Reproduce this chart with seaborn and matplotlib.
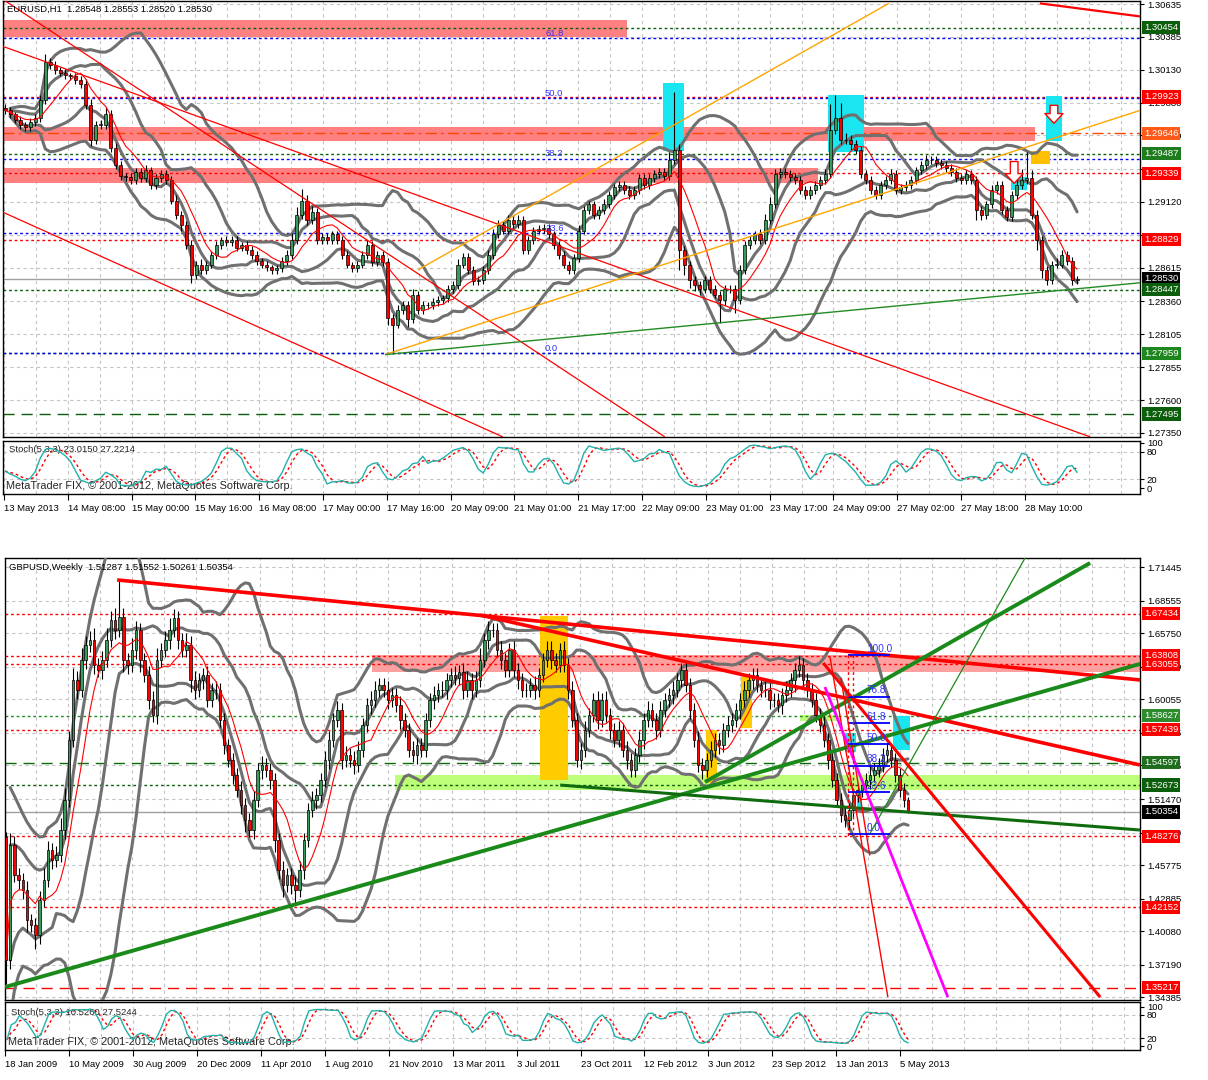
import numpy as np
import pandas as pd
import matplotlib
matplotlib.use("Agg")
import matplotlib.pyplot as plt
import seaborn as sns

sns.set_theme(style="white")
plt.rcParams["font.family"] = ["Liberation Sans", "DejaVu Sans"]

# ---------------- EURUSD H1 (top chart) ----------------
eur_first_open = 1.2984
eur_close = [
    1.2982, 1.2979, 1.2975, 1.2971, 1.2969, 1.2973, 1.2976, 1.2990, 1.3019, 1.3017,
    1.3013, 1.3011, 1.3009, 1.3008, 1.3005, 1.3002, 1.2986, 1.2959, 1.2971, 1.2971,
    1.2979, 1.2953, 1.2940, 1.2932, 1.2931, 1.2929, 1.2935, 1.2930, 1.2936, 1.2925,
    1.2930, 1.2933, 1.2929, 1.2913, 1.2902, 1.2894, 1.2879, 1.2856, 1.2864, 1.2860,
    1.2864, 1.2871, 1.2879, 1.2883, 1.2881, 1.2883, 1.2877, 1.2879, 1.2875, 1.2871,
    1.2867, 1.2864, 1.2862, 1.2860, 1.2861, 1.2867, 1.2871, 1.2883, 1.2902, 1.2913,
    1.2898, 1.2904, 1.2883, 1.2885, 1.2883, 1.2887, 1.2883, 1.2871, 1.2864, 1.2861,
    1.2864, 1.2871, 1.2879, 1.2866, 1.2871, 1.2866, 1.2823, 1.2818, 1.2829, 1.2833,
    1.2822, 1.2841, 1.2829, 1.2833, 1.2833, 1.2835, 1.2837, 1.2838, 1.2845, 1.2848,
    1.2864, 1.2870, 1.2860, 1.2851, 1.2852, 1.2860, 1.2871, 1.2887, 1.2894, 1.2890,
    1.2898, 1.2895, 1.2898, 1.2875, 1.2883, 1.2890, 1.2891, 1.2892, 1.2887, 1.2879,
    1.2871,
    1.2864, 1.2860, 1.2869, 1.2890, 1.2906, 1.2910, 1.2902, 1.2906, 1.2910, 1.2917,
    1.2923, 1.2925, 1.2921, 1.2917, 1.2921, 1.2930, 1.2925, 1.2930, 1.2933,
    1.2935, 1.2932, 1.2944, 1.2952, 1.2875, 1.2864, 1.2852, 1.2848, 1.2845, 1.2852,
    1.2845, 1.2841, 1.2837, 1.2845, 1.2845, 1.2837, 1.2860, 1.2879, 1.2883,
    1.2887, 1.2883, 1.2898, 1.2910, 1.2933, 1.2935, 1.2933, 1.2931, 1.2929,
    1.2921, 1.2917, 1.2921, 1.2925, 1.2929, 1.2933, 1.2967, 1.2976, 1.2959,
    1.2959, 1.2956, 1.2952, 1.2933, 1.2929, 1.2921, 1.2917, 1.2925, 1.2929,
    1.2933, 1.2921, 1.2923, 1.2925, 1.2929, 1.2936, 1.2940, 1.2944, 1.2944, 1.2942,
    1.2940, 1.2938, 1.2935, 1.2930, 1.2929, 1.2933, 1.2929, 1.2906,
    1.2902, 1.2910, 1.2921, 1.2925, 1.2906, 1.2900, 1.2917, 1.2925, 1.2929, 1.2930,
    1.2902, 1.2883, 1.2860, 1.2852, 1.2864, 1.2864, 1.2871, 1.2867, 1.2852, 1.2853,
]
# wicks beyond the body, in pips
eur_up_wick = [
    3, 3, 2, 3, 2, 3, 3, 4, 6, 3,   3, 2, 3, 2, 3, 3, 4, 5, 3, 4,
    6, 3, 4, 3, 2, 3, 3, 3, 4, 3,   3, 3, 3, 3, 4, 3, 3, 4, 3, 4,
    3, 3, 3, 2, 3, 3, 3, 2, 3, 3,   3, 2, 3, 2, 3, 3, 4, 5, 6, 9,
    4, 5, 3, 3, 3, 3, 3, 3, 3, 2,   3, 3, 4, 3, 3, 3, 3, 3, 4, 3,
    3, 4, 3, 3, 2, 3, 3, 3, 3, 3,   4, 3, 3, 3, 3, 3, 4, 4, 4, 3,
    4, 3, 4, 3, 3, 3, 3, 3, 3, 3,   3, 3, 3, 3, 4, 3, 3, 3, 3, 4,
    3, 3, 3, 3, 3, 3, 3, 3, 3, 3,   3, 3, 6, 44, 4, 3, 3, 3, 3, 3,
    3, 3, 3, 3, 3, 3, 4, 3, 3, 3,   4, 5, 6, 4, 3, 3, 3, 3, 3, 3,
    3, 3, 3, 4, 20, 18, 12, 6, 4, 3, 3, 3, 3, 3, 3, 3, 4, 3, 3, 3,
    3, 3, 3, 4, 3, 3, 3, 3, 3, 3,   3, 3, 3, 3, 3, 3, 4, 3, 3, 3,
    3, 5, 8, 20, 6, 4, 3, 3, 3, 5,  4, 3, 3, 2,
]
eur_dn_wick = [
    3, 3, 3, 3, 3, 3, 3, 3, 3, 3,   3, 3, 3, 3, 3, 3, 3, 4, 3, 3,
    3, 3, 3, 3, 3, 3, 3, 3, 3, 3,   3, 3, 3, 3, 3, 4, 3, 6, 3, 3,
    3, 3, 3, 3, 3, 3, 3, 3, 3, 3,   3, 3, 3, 3, 3, 3, 3, 3, 3, 3,
    4, 3, 3, 3, 3, 3, 3, 3, 3, 3,   3, 3, 3, 3, 3, 3, 5, 22, 3, 3,
    6, 3, 3, 3, 3, 3, 3, 3, 3, 3,   3, 3, 3, 3, 3, 3, 3, 3, 3, 3,
    3, 3, 3, 3, 3, 3, 3, 3, 3, 3,   3, 3, 3, 3, 3, 3, 3, 3, 3, 3,
    3, 3, 3, 3, 3, 3, 3, 3, 3, 3,   3, 3, 3, 3, 15, 8, 6, 4, 4, 3,
    3, 3, 18, 4, 3, 10, 3, 3, 3, 3, 3, 3, 3, 3, 3, 3, 3, 3, 3, 3,
    3, 3, 3, 3, 3, 3, 3, 3, 4, 3,   3, 3, 3, 3, 3, 3, 3, 3, 3, 3,
    3, 3, 3, 3, 3, 3, 3, 3, 3, 3,   3, 3, 3, 8, 4, 3, 3, 3, 3, 3,
    3, 3, 3, 3, 3, 8, 6, 4, 3, 3,   3, 3, 4, 3,
]
eur_price_ticks = [1.30635, 1.30385, 1.30130, 1.29880, 1.29630, 1.29370, 1.29120,
                   1.28865, 1.28615, 1.28360, 1.28105, 1.27855, 1.27600, 1.27350]
eur_dates = ["13 May 2013", "14 May 08:00", "15 May 00:00", "15 May 16:00", "16 May 08:00",
             "17 May 00:00", "17 May 16:00", "20 May 09:00", "21 May 01:00", "21 May 17:00",
             "22 May 09:00", "23 May 01:00", "23 May 17:00", "24 May 09:00", "27 May 02:00",
             "27 May 18:00", "28 May 10:00"]
eur_tags = [(1.30454, "#0B5E0B"), (1.29923, "#FF0000"), (1.29646, "#FF5A1A"),
            (1.29487, "#1E7B1E"), (1.29339, "#FF0000"), (1.28829, "#FF0000"),
            (1.28530, "#000000"), (1.28447, "#0B5E0B"), (1.27959, "#1E861E"),
            (1.27495, "#0B5E0B")]
eur_fib_low, eur_fib_high = 1.27959, 1.31866
eur_fib_ratios = [0.0, 23.6, 38.2, 50.0, 61.8]

# ---------------- GBPUSD Weekly (bottom chart) ----------------
gbp_first_open = 1.4820
gbp_close = [
    1.3761, 1.4751, 1.4493, 1.4450, 1.4364, 1.4105, 1.4062, 1.3976, 1.4278, 1.4450,
    1.4708, 1.4622, 1.4665, 1.4880, 1.5138, 1.5655, 1.6172, 1.6085, 1.6344, 1.6473,
    1.6516, 1.6301, 1.6258, 1.6344, 1.6516, 1.6688, 1.6602, 1.6714, 1.6344, 1.6301,
    1.6430, 1.6602, 1.6344, 1.6215, 1.5999, 1.5870, 1.6344, 1.6430, 1.6516, 1.6602,
    1.6705, 1.6516, 1.6430, 1.6473, 1.6172, 1.6085, 1.6172, 1.6215, 1.5999, 1.6085,
    1.6085, 1.5827, 1.5612, 1.5483, 1.5354, 1.5224, 1.5095, 1.4966, 1.4880, 1.5138,
    1.5397, 1.5440, 1.5397, 1.5310, 1.4794, 1.4536, 1.4407, 1.4493, 1.4407, 1.4364,
    1.4536, 1.4794, 1.5052, 1.5138, 1.5181, 1.5310, 1.5483, 1.5655, 1.5827, 1.5913,
    1.5483, 1.5526, 1.5483, 1.5440, 1.5569, 1.5784, 1.5956, 1.5999, 1.6085, 1.6129,
    1.6085, 1.5999, 1.6042, 1.5956, 1.5827, 1.5741, 1.5569, 1.5526, 1.5612, 1.5569,
    1.5827, 1.5999, 1.6042, 1.6085, 1.6085, 1.6172, 1.6215, 1.6189, 1.6241, 1.6085,
    1.6172, 1.6085, 1.6172, 1.6344, 1.6516, 1.6602, 1.6602, 1.6430, 1.6344, 1.6258,
    1.6430, 1.6258, 1.6172, 1.6085, 1.6085, 1.6129, 1.6085, 1.6215, 1.6344, 1.6430,
    1.6344, 1.6301, 1.6430, 1.6301, 1.6085, 1.5827,
    1.5483, 1.5569, 1.5741, 1.5870, 1.5999, 1.5827, 1.5999, 1.5870, 1.5741, 1.5655,
    1.5741, 1.5569, 1.5483, 1.5397, 1.5526, 1.5655, 1.5827, 1.5913, 1.5827, 1.5741,
    1.5913, 1.5999, 1.6042, 1.6085, 1.6172, 1.6258, 1.6129, 1.5913, 1.5655, 1.5440,
    1.5397, 1.5483, 1.5569, 1.5655, 1.5612, 1.5741, 1.5784, 1.5827, 1.5913, 1.5999,
    1.6085, 1.6172, 1.6215, 1.6129, 1.6085, 1.6085, 1.5999, 1.5999, 1.5956, 1.6042,
    1.6085, 1.6172, 1.6258, 1.6301, 1.6172, 1.6085, 1.5999, 1.5870, 1.5784, 1.5655,
    1.5483, 1.5310, 1.5138, 1.5009, 1.4966, 1.5052, 1.5181, 1.5224, 1.5267, 1.5310,
    1.5354, 1.5397, 1.5440, 1.5526, 1.5569, 1.5483, 1.5354, 1.5224, 1.5138, 1.5035,
]
# wicks beyond the body, in units of 0.001
gbp_up_wick = [
    4, 10, 8, 6, 6, 8, 5, 6, 8, 10,   8, 6, 8, 10, 10, 8, 10, 8, 10, 8,
    8, 10, 6, 8, 10, 8, 10, 31, 8, 6, 10, 8, 6, 6, 8, 8, 10, 6, 8, 10,
    8, 6, 6, 10, 8, 8, 6, 6, 8, 6,    8, 6, 6, 5, 6, 6, 8, 6, 6, 8,
    6, 8, 6, 6, 6, 6, 8, 6, 6, 8,     8, 6, 6, 8, 6, 6, 8, 8, 6, 8,
    6, 8, 6, 8, 8, 6, 6, 8, 8, 6,     6, 8, 6, 6, 8, 6, 6, 8, 6, 6,
    6, 6, 8, 6, 8, 6, 6, 8, 6, 8,     8, 6, 8, 10, 6, 8, 6, 6, 8, 6,
    6, 8, 6, 6, 6, 6, 8, 6, 6, 8,     8, 6, 6, 8, 6, 8, 6, 6, 8, 6,
    6, 8, 6, 8, 6, 6, 8, 6, 8, 6,     6, 8, 6, 8, 6, 6, 8, 6, 6, 8,
    6, 6, 8, 6, 6, 8, 6, 6, 8, 6,     6, 6, 8, 6, 6, 6, 8, 6, 6, 6,
    6, 8, 6, 6, 6, 6, 8, 6, 6, 8,     6, 6, 6, 6, 6, 8, 6, 6, 6, 6,
    8, 6, 6, 6, 6, 6, 8, 6, 6, 6,     6, 6, 6, 6, 6, 3,
]
gbp_dn_wick = [
    21, 8, 6, 8, 8, 10, 6, 12, 8, 6,  6, 8, 6, 6, 8, 6, 6, 8, 6, 8,
    6, 8, 6, 8, 6, 6, 8, 6, 10, 8,    6, 8, 10, 6, 8, 6, 8, 6, 6, 8,
    6, 8, 6, 6, 10, 8, 6, 8, 6, 6,    8, 6, 8, 6, 8, 6, 8, 10, 6, 8,
    6, 8, 6, 8, 10, 8, 10, 6, 8, 13,  6, 8, 6, 6, 8, 6, 6, 8, 6, 6,
    8, 6, 6, 8, 6, 6, 6, 8, 6, 6,     6, 8, 6, 6, 8, 6, 6, 6, 8, 6,
    6, 6, 8, 6, 6, 8, 6, 6, 6, 8,     6, 8, 6, 6, 6, 8, 6, 6, 8, 6,
    6, 6, 8, 6, 6, 6, 8, 6, 6, 6,     8, 6, 6, 6, 8, 6, 6, 8, 6, 6,
    6, 8, 6, 6, 8, 6, 6, 6, 8, 6,     6, 6, 8, 6, 6, 8, 6, 6, 6, 8,
    6, 6, 6, 8, 6, 6, 8, 6, 6, 6,     8, 6, 6, 6, 6, 8, 6, 6, 8, 6,
    6, 6, 8, 6, 6, 8, 6, 6, 10, 6,    8, 6, 6, 6, 6, 6, 8, 6, 6, 6,
    6, 8, 6, 6, 6, 6, 8, 6, 6, 6,     6, 6, 6, 6, 6, 1,
]
gbp_price_ticks = [1.71445, 1.68555, 1.65750, 1.62860, 1.60055, 1.57165, 1.54375,
                   1.51470, 1.48580, 1.45775, 1.42885, 1.40080, 1.37190, 1.34385]
gbp_dates = ["18 Jan 2009", "10 May 2009", "30 Aug 2009", "20 Dec 2009", "11 Apr 2010",
             "1 Aug 2010", "21 Nov 2010", "13 Mar 2011", "3 Jul 2011", "23 Oct 2011",
             "12 Feb 2012", "3 Jun 2012", "23 Sep 2012", "13 Jan 2013", "5 May 2013"]
gbp_tags = [(1.67434, "#FF0000"), (1.63808, "#FF0000"), (1.63055, "#FF0000"),
            (1.58627, "#2E8B2E"), (1.57439, "#FF0000"), (1.54597, "#1E6E1E"),
            (1.52673, "#0B5E0B"), (1.50354, "#000000"), (1.48276, "#FF0000"),
            (1.42152, "#FF0000"), (1.35217, "#FF0000")]
gbp_fib_low, gbp_fib_high = 1.4846, 1.6387
gbp_fib_ratios = [0.0, 23.6, 38.2, 50.0, 61.8, 76.8, 100.0]

assert len(eur_close) == len(eur_up_wick) == len(eur_dn_wick)
assert len(gbp_close) == len(gbp_up_wick) == len(gbp_dn_wick)

DOT = (0, (2, 2))
LONG = (0, (8, 5))
GRID = "#C4C4C4"
FS = 6.8

W, H = 1208, 1080
fig = plt.figure(figsize=(W / 100, H / 100), dpi=100)
fig.patch.set_facecolor("white")


def px_axes(left, top, right, bottom):
    return fig.add_axes([left / W, 1 - bottom / H, (right - left) / W, (bottom - top) / H])


def style(ax):
    ax.set_facecolor("white")
    for s in ax.spines.values():
        s.set_color("black")
        s.set_linewidth(1.0)
    ax.yaxis.tick_right()
    ax.tick_params(axis="both", direction="out", length=3, width=0.8, labelsize=FS,
                   pad=2, colors="black", left=False, bottom=True)
    ax.set_xlabel("")
    ax.set_ylabel("")


def draw_candles(ax, first_open, closes, up_wick, dn_wick, unit, width):
    c = np.asarray(closes)
    o = np.concatenate([[first_open], c[:-1]])
    hi = np.maximum(o, c) + np.asarray(up_wick) * unit
    lo = np.minimum(o, c) - np.asarray(dn_wick) * unit
    x = np.arange(len(c))
    ax.vlines(x, lo, hi, color="black", lw=0.8, zorder=5)
    body = c - o
    body = np.where(np.abs(body) < unit * 0.3, unit * 0.3, body)
    colors = np.where(c >= o, "#3A9A5C", "#FF0000")
    ax.bar(x, body, bottom=o, width=width, color=colors, edgecolor="black",
           linewidth=0.5, zorder=6)
    return o, hi, lo


def indicators(ax, closes):
    s = pd.Series(closes)
    x = np.arange(len(s))
    for win, k in ((20, 2.0), (12, 1.0)):
        mid = s.rolling(win, min_periods=2).mean()
        sd = s.rolling(win, min_periods=2).std(ddof=0)
        for band in (mid + k * sd, mid - k * sd):
            sns.lineplot(x=x, y=band.values, ax=ax, color="#707070", lw=2.2,
                         errorbar=None, zorder=4)
    ma = s.rolling(8, min_periods=1).mean()
    sns.lineplot(x=x, y=ma.values, ax=ax, color="#FF0000", lw=0.8, errorbar=None, zorder=7)


def stochastic(st, closes, hi, lo):
    c = pd.Series(closes)
    hh = pd.Series(hi).rolling(5, min_periods=1).max()
    ll = pd.Series(lo).rolling(5, min_periods=1).min()
    k = 100 * (c - ll).rolling(3, min_periods=1).sum() / (hh - ll).rolling(3, min_periods=1).sum()
    d = k.rolling(3, min_periods=1).mean()
    x = np.arange(len(c))
    sns.lineplot(x=x, y=k.values, ax=st, color="#20B2AA", lw=1.0, errorbar=None, zorder=4)
    sns.lineplot(x=x, y=d.values, ax=st, color="#FF0000", lw=1.0, ls=DOT, errorbar=None, zorder=3)


def grid(ax, positions, hlines):
    for gx in positions:
        ax.axvline(gx, color=GRID, lw=0.8, ls=(0, (3, 3)), zorder=0)
    for gy in hlines:
        ax.axhline(gy, color=GRID, lw=0.8, ls=(0, (3, 3)), zorder=0)


def tag(ax, price, color):
    ax.text(1.0 + 4 / 1137, price, f"{price:.5f}", transform=ax.get_yaxis_transform(),
            color="white", fontsize=FS, va="center", ha="left", zorder=30, clip_on=False,
            bbox=dict(boxstyle="square,pad=0.22", fc=color, ec="none"))


def zone(ax, x0, x1, p0, p1, color, z=1, alpha=1.0):
    ax.fill_between([x0, x1], p0, p1, color=color, lw=0, zorder=z, alpha=alpha)


def seg(ax, a, b, color, lw, z=8, ls="-"):
    ax.plot([a[0], b[0]], [a[1], b[1]], color=color, lw=lw, zorder=z, ls=ls,
            solid_capstyle="butt")


# =================== TOP: EURUSD H1 ===================
ax1 = px_axes(3, 1, 1140, 437)
st1 = px_axes(3, 441, 1140, 494)
eur_xlim = (-0.4, 225.5)
eur_step = 63.8 / 5.033
eur_label_pos = [-0.2 + eur_step * i for i in range(len(eur_dates))]
eur_grid_pos = [-0.2 + eur_step / 2 * i for i in range(36)]

grid(ax1, eur_grid_pos, eur_price_ticks)
zone(ax1, -0.4, 123.6, 1.30383, 1.30513, "#FF8080")
zone(ax1, -0.4, 204.7, 1.29586, 1.29693, "#FF8080")
zone(ax1, -0.4, 161.5, 1.29264, 1.29379, "#FF8080")
for p, col, ls in [(1.30454, "#0B5E0B", DOT), (1.29923, "#FF0000", DOT),
                   (1.29646, "#FF4500", (0, (8, 3, 2, 3))), (1.29487, "#0B5E0B", DOT),
                   (1.29339, "#FF0000", DOT), (1.28829, "#FF0000", DOT),
                   (1.28447, "#0B5E0B", DOT), (1.27959, "#0B5E0B", DOT),
                   (1.27495, "#0B5E0B", LONG)]:
    ax1.axhline(p, color=col, lw=1.0, ls=ls, zorder=2)
ax1.axhline(1.28530, color="#A0A0A0", lw=1.0, zorder=2)
for r in eur_fib_ratios:
    lvl = eur_fib_low + (eur_fib_high - eur_fib_low) * r / 100
    ax1.axhline(lvl, color="#0000FF", lw=1.0, ls=DOT, zorder=2)
    ax1.text(107.3, lvl + 0.00004, f"{r:.1f}", color="#3030FF", fontsize=FS,
             va="bottom", ha="left", zorder=12)
zone(ax1, 130.7, 134.9, 1.29509, 1.30030, "#19E6F0", z=3)
zone(ax1, 163.6, 170.6, 1.29502, 1.29938, "#19E6F0", z=3)
zone(ax1, 206.8, 210.0, 1.29586, 1.29931, "#19E6F0", z=3)
zone(ax1, 199.9, 203.1, 1.29210, 1.29310, "#19E6F0", z=3)
zone(ax1, 203.9, 207.6, 1.29410, 1.29510, "#FFC000", z=3)

o1, h1, l1 = draw_candles(ax1, eur_first_open, eur_close, eur_up_wick, eur_dn_wick, 0.0001, 0.6)
indicators(ax1, eur_close)

seg(ax1, (-0.4, 1.3067), (131.1, 1.2732), "#FF0000", 0.9)
seg(ax1, (-0.4, 1.3031), (215.6, 1.2732), "#FF0000", 0.9)
seg(ax1, (-0.4, 1.2904), (98.9, 1.2732), "#FF0000", 0.9)
seg(ax1, (205.6, 1.3064), (225.5, 1.3054), "#FF0000", 1.6)
seg(ax1, (82.1, 1.2860), (175.6, 1.3064), "#FFA500", 1.0)
seg(ax1, (75.5, 1.2795), (225.5, 1.2982), "#FFA500", 1.0)
seg(ax1, (75.5, 1.2795), (225.5, 1.2850), "#228B22", 1.0)

for xa, top, tip in [(200.5, 1.2945, 1.2924), (208.4, 1.2988, 1.2970)]:
    ax1.annotate("", xy=(xa, tip), xytext=(xa, top), zorder=15,
                 arrowprops=dict(arrowstyle="simple,head_length=0.7,head_width=1.3,tail_width=0.55",
                                 fc="white", ec="#FF0000", lw=1.0, mutation_scale=10))

ax1.set_xlim(*eur_xlim)
ax1.set_ylim(1.27319, 1.30658)
ax1.set_yticks(eur_price_ticks)
ax1.set_yticklabels([f"{p:.5f}" for p in eur_price_ticks])
ax1.set_xticks([])
style(ax1)
for p, col in eur_tags:
    tag(ax1, p, col)
fig.text(7 / W, 1 - 9 / H, "EURUSD,H1  1.28548 1.28553 1.28520 1.28530",
         fontsize=FS, va="center", ha="left", color="black")

grid(st1, eur_grid_pos, [20, 80])
stochastic(st1, eur_close, h1, l1)
st1.set_xlim(*eur_xlim)
st1.set_ylim(-13, 104)
st1.set_yticks([0, 20, 80, 100])
st1.set_yticklabels(["0", "20", "80", "100"])
st1.set_xticks(eur_label_pos)
st1.set_xticklabels(eur_dates, ha="left")
style(st1)
st1.tick_params(axis="x", length=4, pad=3)
st1.text(6 / 1137, 0.84, "Stoch(5,3,3) 23.0150 27.2214", transform=st1.transAxes,
         fontsize=FS, va="center", ha="left")
st1.text(3 / 1137, 0.16, "MetaTrader FIX, \u00a9 2001-2012, MetaQuotes Software Corp.",
         transform=st1.transAxes, fontsize=7.8, va="center", ha="left")

# =================== BOTTOM: GBPUSD Weekly ===================
ax2 = px_axes(5, 558, 1140, 1000)
st2 = px_axes(5, 1002, 1140, 1050)
gbp_xlim = (-0.24, 270.3)
gbp_step = 64.0 / 4.195
gbp_label_pos = [-0.48 + gbp_step * i for i in range(len(gbp_dates))]
gbp_grid_pos = [-0.48 + gbp_step / 2 * i for i in range(36)]

grid(ax2, gbp_grid_pos, gbp_price_ticks)
zone(ax2, 87.2, 270.3, 1.6241, 1.6387, "#FFA0A0")
zone(ax2, 92.7, 270.3, 1.5224, 1.5354, "#BEFF7A")
zone(ax2, 189.3, 198.8, 1.5818, 1.5870, "#BEFF7A")
for p, col, ls in [(1.67434, "#FF0000", DOT), (1.63808, "#FF0000", DOT),
                   (1.63055, "#FF0000", DOT), (1.58627, "#228B22", DOT),
                   (1.57439, "#FF0000", DOT), (1.54597, "#0B6B0B", LONG),
                   (1.52673, "#0B5E0B", DOT), (1.48276, "#FF0000", DOT),
                   (1.42152, "#FF0000", DOT), (1.35217, "#FF0000", LONG)]:
    ax2.axhline(p, color=col, lw=1.0, ls=ls, zorder=2)
ax2.axhline(1.50354, color="#A0A0A0", lw=1.0, zorder=2)

zone(ax2, 127.3, 134.0, 1.5311, 1.6723, "#FFCC00", z=3)
zone(ax2, 175.2, 177.8, 1.5758, 1.6206, "#FFCC00", z=3)
zone(ax2, 166.9, 169.5, 1.5285, 1.5741, "#FFCC00", z=3)
zone(ax2, 211.4, 215.5, 1.5569, 1.5862, "#19E6F0", z=3)
zone(ax2, 200.0, 202.6, 1.5552, 1.5716, "#19E6F0", z=3)
zone(ax2, 202.9, 204.1, 1.5052, 1.5224, "#19E6F0", z=3)

o2, h2, l2 = draw_candles(ax2, gbp_first_open, gbp_close, gbp_up_wick, gbp_dn_wick, 0.001, 0.6)
indicators(ax2, gbp_close)

for r in gbp_fib_ratios:
    lvl = gbp_fib_low + (gbp_fib_high - gbp_fib_low) * r / 100
    seg(ax2, (200.7, lvl), (210.7, lvl), "#0000FF", 1.3, z=9)
    ax2.text(205.2, lvl + 0.001, f"{r:.1f}", color="#3030FF", fontsize=7.2,
             va="bottom", ha="left", zorder=12)
seg(ax2, (200.7, gbp_fib_high), (200.7, 1.4830), "#FF0000", 1.0, z=9, ls=DOT)
seg(ax2, (201.9, gbp_fib_high), (201.9, 1.4830), "#FF0000", 1.0, z=9, ls=DOT)

seg(ax2, (26.5, 1.7033), (270.3, 1.6172), "#FF0000", 2.6)
seg(ax2, (113.0, 1.6731), (270.3, 1.5440), "#FF0000", 2.6)
seg(ax2, (-0.24, 1.3528), (270.3, 1.6310), "#1A8A1A", 2.8)
seg(ax2, (166.6, 1.5293), (258.4, 1.7179), "#1A8A1A", 2.8)
seg(ax2, (206.0, 1.4854), (242.9, 1.7222), "#1A8A1A", 0.9)
seg(ax2, (132.1, 1.5267), (270.3, 1.4880), "#0E6B0E", 2.2)
seg(ax2, (194.8, 1.6318), (260.8, 1.3442), "#FF0000", 2.2)
seg(ax2, (196.4, 1.6370), (210.2, 1.3442), "#FF0000", 1.0)
seg(ax2, (199.0, 1.6190), (205.9, 1.4660), "#FF0000", 1.0)
seg(ax2, (195.2, 1.6111), (224.5, 1.3442), "#FF00FF", 2.0)

ax2.set_xlim(*gbp_xlim)
ax2.set_ylim(1.34164, 1.72220)
ax2.set_yticks(gbp_price_ticks)
ax2.set_yticklabels([f"{p:.5f}" for p in gbp_price_ticks])
ax2.set_xticks([])
style(ax2)
for p, col in gbp_tags:
    tag(ax2, p, col)
fig.text(9 / W, 1 - 567 / H, "GBPUSD,Weekly  1.51287 1.51552 1.50261 1.50354",
         fontsize=FS, va="center", ha="left", color="black")

grid(st2, gbp_grid_pos, [20, 80])
stochastic(st2, gbp_close, h2, l2)
st2.set_xlim(*gbp_xlim)
st2.set_ylim(-10, 112)
st2.set_yticks([0, 20, 80, 100])
st2.set_yticklabels(["0", "20", "80", "100"])
st2.set_xticks(gbp_label_pos)
st2.set_xticklabels(gbp_dates, ha="left")
style(st2)
st2.tick_params(axis="x", length=4, pad=3)
st2.text(6 / 1135, 0.78, "Stoch(5,3,3) 10.5260 27.5244", transform=st2.transAxes,
         fontsize=FS, va="center", ha="left")
st2.text(3 / 1135, 0.17, "MetaTrader FIX, \u00a9 2001-2012, MetaQuotes Software Corp.",
         transform=st2.transAxes, fontsize=7.8, va="center", ha="left")

fig.savefig("out.png", dpi=100, facecolor="white")
